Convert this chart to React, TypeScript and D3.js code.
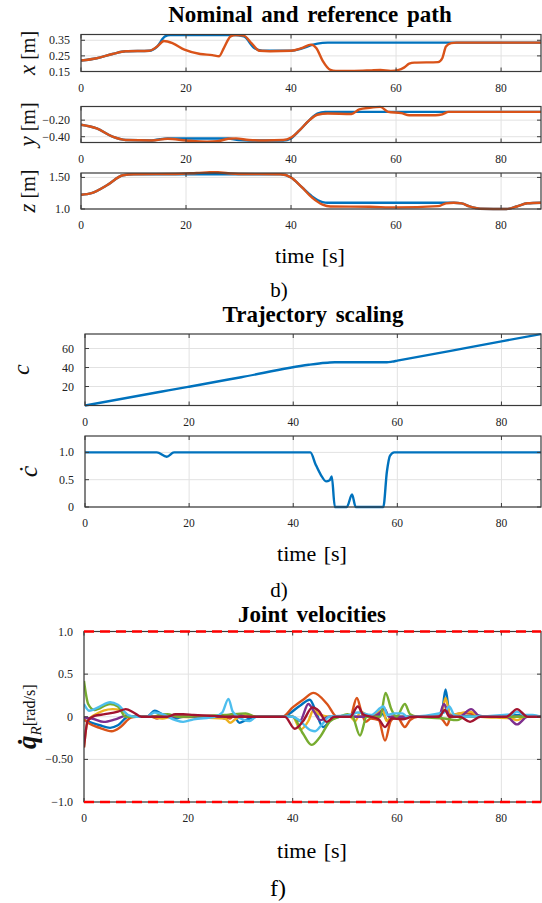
import React from "react";
import * as d3 from "d3";

const W = 542;
const H = 903;
const T_MAX = 87.6;
const FONT = "'Liberation Serif', 'DejaVu Serif', serif";

const timeTicks = [0, 20, 40, 60, 80];

// panel b) nominal (blue) vs reference (orange) path, [t, value]
const xNominal: [number, number][] = [
  [0, 0.22], [3, 0.235], [6, 0.262], [8.5, 0.28], [13, 0.283], [14.5, 0.31], [16, 0.375], [17, 0.383],
  [29, 0.383], [31, 0.375], [33, 0.3], [34.5, 0.283], [40, 0.283], [42, 0.297], [44, 0.32], [46, 0.333],
  [47, 0.335], [T_MAX, 0.335],
];
const xReference: [number, number][] = [
  [0, 0.22], [3, 0.235], [6, 0.262], [8.5, 0.28], [13, 0.283], [14.5, 0.31], [15.8, 0.345], [17.5, 0.33],
  [19.7, 0.29], [22.7, 0.262], [25, 0.255], [26.3, 0.248], [27.2, 0.3], [28.5, 0.375], [29.5, 0.383],
  [31, 0.38], [32.5, 0.33], [34, 0.283], [36, 0.28], [40, 0.283], [42, 0.3], [43.8, 0.322], [44.8, 0.3],
  [46, 0.22], [47.5, 0.16], [48.5, 0.154], [52, 0.154], [55, 0.157], [57, 0.16], [59, 0.154], [60.5, 0.16],
  [61.5, 0.175], [62.5, 0.2], [63.5, 0.207], [68, 0.21], [68.8, 0.235], [69.5, 0.31], [70.5, 0.332],
  [71.5, 0.335], [T_MAX, 0.335],
];
const yNominal: [number, number][] = [
  [0, -0.255], [3, -0.3], [6, -0.4], [8.5, -0.44], [13.5, -0.445], [15, -0.43], [16.5, -0.422], [28, -0.422],
  [30, -0.44], [32, -0.445], [38.5, -0.445], [40, -0.42], [41.5, -0.33], [43.5, -0.2], [45, -0.12],
  [46.5, -0.1], [T_MAX, -0.1],
];
const yReference: [number, number][] = [
  [0, -0.255], [3, -0.3], [6, -0.4], [8.5, -0.44], [13.5, -0.445], [16.5, -0.425], [20, -0.445], [24, -0.46],
  [26, -0.455], [28, -0.425], [29.5, -0.42], [32, -0.44], [35, -0.445], [38.5, -0.44], [40, -0.41],
  [41.5, -0.33], [43.5, -0.2], [45, -0.135], [47, -0.12], [51.5, -0.125], [53, -0.07], [55, -0.05],
  [57, -0.04], [58.5, -0.1], [61, -0.115], [62.5, -0.14], [67.5, -0.14], [68.8, -0.13], [70, -0.1], [T_MAX, -0.1],
];
const zNominal: [number, number][] = [
  [0, 1.225], [2, 1.25], [5, 1.38], [8, 1.535], [10, 1.55], [38, 1.55], [40, 1.5], [42, 1.35], [44, 1.2],
  [46, 1.11], [47, 1.1], [71, 1.1], [72.5, 1.09], [74, 1.04], [76, 1.005], [81, 1.0], [83, 1.04], [85, 1.09],
  [T_MAX, 1.1],
];
const zReference: [number, number][] = [
  [0, 1.225], [2, 1.25], [5, 1.38], [8, 1.535], [10, 1.55], [18, 1.555], [22, 1.57], [25.5, 1.585],
  [28, 1.565], [30, 1.553], [38, 1.55], [40, 1.5], [42, 1.35], [44, 1.18], [46, 1.07], [47.5, 1.04],
  [55, 1.035], [60, 1.025], [68, 1.045], [69.5, 1.09], [71, 1.1], [72.5, 1.09], [74, 1.04], [76, 1.005],
  [81, 1.0], [83, 1.04], [85, 1.09], [T_MAX, 1.1],
];

// panel d) trajectory scaling
const cValues: [number, number][] = [
  [0, 0], [14, 14], [16, 15.9], [20, 19.8], [30, 29.8], [43, 42.9], [45, 44.3], [47, 45.3], [48, 45.5],
  [58, 45.5], [59, 46.2], [60, 47.2], [70, 57.3], [80, 67.6], [T_MAX, 75.2],
];
const cDotValues: [number, number][] = [
  [0, 1], [13.8, 1], [15.7, 0.92], [17.1, 1], [43.3, 1], [44.3, 0.78], [45.3, 0.59], [46.3, 0.47], [47, 0.49],
  [47.4, 0.56], [48, 0], [50.3, 0], [51.3, 0.23], [52, 0], [57.3, 0], [58, 0.65], [58.6, 0.94], [59.4, 1], [T_MAX, 1],
];

// panel f) joint velocities
const q1: [number, number][] = [
  [0, -0.04], [1, -0.06], [3, -0.1], [5, -0.13], [6.5, -0.1], [8.5, 0], [12, 0], [13.6, 0.07], [15, 0.03],
  [16, 0.02], [17.5, -0.02], [19, 0], [26, 0], [27, -0.02], [28.5, 0.03], [29.8, -0.07], [31, -0.04], [33, 0],
  [38, 0], [41.4, 0.13], [43.3, 0.2], [44.2, 0.1], [45.8, -0.12], [47.5, -0.03], [49, 0], [55, 0], [57.3, 0.03],
  [58.2, -0.05], [59, 0], [63, 0], [68.5, 0.01], [69.3, 0.32], [70.1, 0.03], [72, 0], [75, 0.02], [77, 0],
  [80, 0], [83, 0.02], [85, 0], [T_MAX, 0],
];
const q2: [number, number][] = [
  [0, -0.03], [1, -0.08], [3, -0.13], [5.3, -0.17], [7, -0.12], [9, -0.01], [10, 0], [13, 0], [14, -0.02],
  [15, 0], [27, 0], [28, -0.02], [29, 0.03], [31, 0], [38, 0], [40, 0.11], [42, 0.2], [44, 0.28], [46.6, 0.15],
  [48.5, 0], [51, 0], [52.3, 0.22], [53.2, 0.05], [54, -0.06], [55, -0.02], [56.5, -0.04], [57.7, -0.28],
  [58.8, -0.05], [60, 0], [61.5, -0.12], [62.5, -0.04], [64, 0], [68, 0], [68.8, -0.04], [69.6, -0.1],
  [70.3, 0], [72, 0.04], [74, 0.04], [76, 0], [T_MAX, 0],
];
const q3: [number, number][] = [
  [0, -0.36], [0.7, -0.05], [2, 0.02], [5.5, 0.09], [7, 0.08], [9, 0], [13, 0], [15, -0.02], [17, 0], [27, -0.02],
  [28, -0.07], [29, -0.03], [31, 0.02], [33, 0], [40, 0], [41.5, -0.15], [43, -0.05], [44, 0.08], [45, 0.03],
  [47, 0], [51, 0], [52, -0.05], [53, 0.06], [55, 0], [57.3, 0.08], [58, -0.05], [59, 0], [63, 0], [68.5, 0.02],
  [69.3, 0.22], [70.2, 0.02], [72, 0.04], [74, 0.06], [76, 0], [82, -0.02], [83, -0.04], [84.5, 0], [T_MAX, 0],
];
const q4: [number, number][] = [
  [0, -0.01], [1.5, -0.02], [3.8, -0.06], [6, -0.03], [8, 0.01], [9.5, 0], [26, 0], [28, 0.02], [29.5, 0.03],
  [31, 0], [40, 0], [41.4, -0.05], [43, 0.15], [44.2, 0.05], [45.2, -0.04], [47, 0], [55, 0], [56.8, 0.05],
  [57.5, 0.1], [58.5, 0], [63, 0], [68, 0], [69, 0.15], [70, 0.02], [72, 0], [74.2, 0.09], [76, 0], [81, 0],
  [83, -0.09], [85, 0], [T_MAX, 0],
];
const q5: [number, number][] = [
  [0, 0.42], [0.8, 0.15], [2, 0.08], [5, 0.15], [6.5, 0.12], [8, 0], [13, 0], [14.5, 0.02], [16, 0.03], [18, 0],
  [27, 0.02], [28.5, 0.03], [31, 0.04], [33, 0], [40, 0], [42, -0.2], [43.6, -0.33], [45.2, -0.24], [47.2, -0.05],
  [49, 0], [50.5, 0.03], [51.5, 0], [52.9, -0.22], [54.2, 0], [56.8, 0], [57.8, 0.28], [58.9, 0.09], [59.9, 0],
  [61.5, 0.15], [62.5, 0.03], [64, 0], [69, -0.02], [71.5, -0.04], [73, 0], [T_MAX, 0],
];
const q6: [number, number][] = [
  [0, 0.15], [1, 0.07], [3, 0.12], [5, 0.17], [6.5, 0.14], [8.5, 0.02], [10, 0], [12, 0], [13.5, 0.05], [15, 0.03],
  [17.5, -0.04], [19, -0.06], [21, -0.03], [25, 0], [26.5, 0.05], [27.7, 0.21], [28.5, 0.06], [30, -0.02],
  [31.8, -0.05], [33, 0], [40, 0], [41, -0.03], [43.5, -0.16], [44.3, -0.17], [45.5, -0.1], [47, 0], [51, 0.02],
  [52.5, 0.05], [55, 0.02], [57.4, 0.12], [58.2, 0.02], [59.5, 0.04], [61, 0.04], [62, 0], [69, 0.05],
  [70, 0.12], [71, 0.02], [73, 0], [82, 0.03], [83, 0.06], [84.5, 0.02], [86, 0.02], [T_MAX, 0],
];
const q7: [number, number][] = [
  [0, -0.36], [0.7, -0.05], [2, 0.01], [4, 0.03], [6.5, 0.06], [8, 0.09], [9.5, 0.05], [11, 0], [16, 0],
  [17.5, 0.03], [19, 0.03], [21, 0.02], [25, 0.01], [27, 0], [38.5, 0], [40.4, -0.14], [42, -0.05], [43.8, 0.11],
  [45, 0.07], [46.5, -0.06], [48, 0], [51, 0], [52.5, 0.12], [53.5, 0.03], [55, 0], [56.5, -0.03], [57.7, -0.12],
  [59, -0.02], [61, -0.03], [63, 0], [68, 0], [69.2, 0.08], [70, 0], [72, 0], [74, -0.06], [76, 0], [81, 0],
  [83, 0.09], [85, 0], [T_MAX, 0],
];

const C = {
  blue: "#0072BD",
  orange: "#D95319",
  yellow: "#EDB120",
  purple: "#7E2F8E",
  green: "#77AC30",
  cyan: "#4DBEEE",
  wine: "#A2142F",
};

type Series = { data: [number, number][]; color: string; width?: number };

type PanelProps = {
  id: string;
  top: number;
  bottom: number;
  left: number;
  right: number;
  yDomain: [number, number];
  yTicks: number[];
  yTickLabels: string[];
  series: Series[];
  limits?: number[];
  yLabel: React.ReactNode;
  yLabelX: number;
  tickFont?: number;
};

function Panel(p: PanelProps) {
  const x = d3.scaleLinear().domain([0, T_MAX]).range([p.left, p.right]);
  const y = d3.scaleLinear().domain(p.yDomain).range([p.bottom, p.top]);
  const line = d3
    .line<[number, number]>()
    .x((d) => x(d[0]))
    .y((d) => y(d[1]))
    .curve(d3.curveMonotoneX);
  const tf = p.tickFont ?? 11.5;
  const tl = 4;
  const midY = (p.top + p.bottom) / 2;
  return (
    <g>
      <defs>
        <clipPath id={p.id}>
          <rect x={p.left} y={p.top - 2} width={p.right - p.left} height={p.bottom - p.top + 4} />
        </clipPath>
      </defs>
      {timeTicks.map((t) => (
        <line key={"gx" + t} x1={x(t)} x2={x(t)} y1={p.top} y2={p.bottom} stroke="#e2e2e2" strokeWidth={1} />
      ))}
      {p.yTicks.map((v) => (
        <line key={"gy" + v} x1={p.left} x2={p.right} y1={y(v)} y2={y(v)} stroke="#e2e2e2" strokeWidth={1} />
      ))}
      <g clipPath={`url(#${p.id})`}>
        {p.series.map((s, i) => (
          <path key={i} d={line(s.data) || ""} fill="none" stroke={s.color} strokeWidth={s.width ?? 2.4} strokeLinejoin="round" />
        ))}
      </g>
      <rect x={p.left} y={p.top} width={p.right - p.left} height={p.bottom - p.top} fill="none" stroke="#3a3a3a" strokeWidth={1.2} />
      {timeTicks.map((t) => (
        <g key={"tx" + t}>
          <line x1={x(t)} x2={x(t)} y1={p.bottom} y2={p.bottom - tl} stroke="#3a3a3a" />
          <line x1={x(t)} x2={x(t)} y1={p.top} y2={p.top + tl} stroke="#3a3a3a" />
          <text x={x(t)} y={p.bottom + 20} textAnchor="middle" fontSize={tf} fontFamily={FONT} fill="#222">
            {t}
          </text>
        </g>
      ))}
      {p.yTicks.map((v, i) => (
        <g key={"ty" + v}>
          <line x1={p.left} x2={p.left + tl} y1={y(v)} y2={y(v)} stroke="#3a3a3a" />
          <line x1={p.right} x2={p.right - tl} y1={y(v)} y2={y(v)} stroke="#3a3a3a" />
          <text x={p.left - 11} y={y(v) + 4} textAnchor="end" fontSize={tf + 0.5} fontFamily={FONT} fill="#222">
            {p.yTickLabels[i]}
          </text>
        </g>
      ))}
      {(p.limits || []).map((v) => (
        <line key={"lim" + v} x1={p.left} x2={p.right} y1={y(v)} y2={y(v)} stroke="#ff0000" strokeWidth={2.6} strokeDasharray="10 6" />
      ))}
      <text transform={`translate(${p.yLabelX},${midY}) rotate(-90)`} textAnchor="middle" fontFamily={FONT} fill="#111">
        {p.yLabel}
      </text>
    </g>
  );
}

const Title = ({ x, y, text, size }: { x: number; y: number; text: string; size: number }) => (
  <text x={x} y={y} textAnchor="middle" fontFamily={FONT} fontWeight="bold" fontSize={size} wordSpacing={3} fill="#000">
    {text}
  </text>
);

const Plain = ({ x, y, text, size }: { x: number; y: number; text: string; size: number }) => (
  <text x={x} y={y} textAnchor="middle" fontFamily={FONT} fontSize={size} wordSpacing={2} fill="#000">
    {text}
  </text>
);

export default function App() {
  const unitLabel = (v: string) => (
    <>
      <tspan fontStyle="italic" fontSize={23}>{v}</tspan>
      <tspan fontSize={20}>{"  [m]"}</tspan>
    </>
  );
  return (
    <svg width={W} height={H} style={{ position: "absolute", left: 0, top: 0, background: "#fff" }}>
      <Title x={310} y={22} text="Nominal and reference path" size={23} />
      <Panel
        id="cx" top={34.5} bottom={71.5} left={81} right={541}
        yDomain={[0.15, 0.387]} yTicks={[0.15, 0.25, 0.35]} yTickLabels={["0.15", "0.25", "0.35"]}
        series={[{ data: xNominal, color: C.blue }, { data: xReference, color: C.orange }]}
        yLabel={unitLabel("x")} yLabelX={35}
      />
      <Panel
        id="cy" top={106.5} bottom={142.5} left={81} right={541}
        yDomain={[-0.47, -0.035]} yTicks={[-0.4, -0.2]} yTickLabels={["\u22120.40", "\u22120.20"]}
        series={[{ data: yNominal, color: C.blue }, { data: yReference, color: C.orange }]}
        yLabel={unitLabel("y")} yLabelX={35}
      />
      <Panel
        id="cz" top={173} bottom={209} left={81} right={541}
        yDomain={[1.0, 1.57]} yTicks={[1.0, 1.5]} yTickLabels={["1.0", "1.50"]}
        series={[{ data: zNominal, color: C.blue }, { data: zReference, color: C.orange }]}
        yLabel={unitLabel("z")} yLabelX={35}
      />
      <Plain x={310} y={263} text="time [s]" size={22} />
      <Plain x={279} y={297} text="b)" size={21} />

      <Title x={313} y={321.5} text="Trajectory scaling" size={23} />
      <Panel
        id="cc" top={334} bottom={405.5} left={85} right={541}
        yDomain={[0, 75.3]} yTicks={[20, 40, 60]} yTickLabels={["20", "40", "60"]}
        series={[{ data: cValues, color: C.blue }]}
        yLabel={<tspan fontStyle="italic" fontSize={24}>c</tspan>} yLabelX={29}
      />
      <Panel
        id="cd" top={436} bottom={507} left={85} right={541}
        yDomain={[0, 1.3]} yTicks={[0, 0.5, 1.0]} yTickLabels={["0", "0.5", "1.0"]}
        series={[{ data: cDotValues, color: C.blue }]}
        yLabel={<tspan fontStyle="italic" fontSize={26}>{"c\u0307"}</tspan>} yLabelX={37}
      />
      <Plain x={312} y={561} text="time [s]" size={22} />
      <Plain x={279} y={597} text="d)" size={21} />

      <Title x={312} y={621.5} text="Joint velocities" size={23} />
      <Panel
        id="cq" top={631.5} bottom={802} left={84} right={541}
        yDomain={[-1, 1]} yTicks={[-1, -0.5, 0, 0.5, 1]} yTickLabels={["\u22121.0", "\u22120.50", "0", "0.5", "1.0"]}
        series={[
          { data: q1, color: C.blue },
          { data: q2, color: C.orange },
          { data: q3, color: C.yellow },
          { data: q4, color: C.purple },
          { data: q5, color: C.green },
          { data: q6, color: C.cyan },
          { data: q7, color: C.wine },
        ]}
        limits={[-1, 1]}
        yLabel={
          <>
            <tspan fontStyle="italic" fontWeight="bold" fontSize={27}>{"q\u0307"}</tspan>
            <tspan fontStyle="italic" fontSize={15} dy={5}>R</tspan>
            <tspan fontSize={16} dy={-6}>{"[rad/s]"}</tspan>
          </>
        }
        yLabelX={36}
      />
      <Plain x={312} y={858} text="time [s]" size={22} />
      <Plain x={278} y={896} text="f)" size={24} />
    </svg>
  );
}
